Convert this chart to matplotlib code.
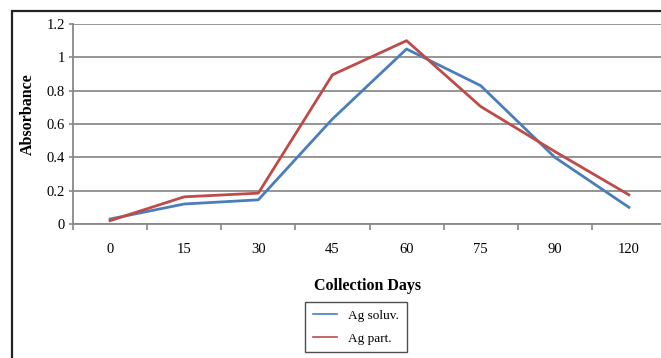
import matplotlib.pyplot as plt
from matplotlib.patches import Rectangle
import numpy as np

days = ["0", "15", "30", "45", "60", "75", "90", "120"]
ag_soluv = [0.03, 0.12, 0.145, 0.63, 1.05, 0.83, 0.40, 0.10]
ag_part = [0.02, 0.163, 0.185, 0.895, 1.10, 0.705, 0.435, 0.175]
yticks = [0, 0.2, 0.4, 0.6, 0.8, 1, 1.2]

plt.rcParams['font.family'] = ['Liberation Serif', 'DejaVu Serif']

W, H = 661, 358
f = plt.figure(figsize=(W / 100, H / 100), dpi=100)

# outer chart frame (cut off on the right and bottom like the source)
f.patches.append(Rectangle((12 / W, -0.1), 1.2, 1.1 - 11 / H, transform=f.transFigure,
                           fill=False, ec="#222222", lw=1.6))

ax = f.add_axes([73 / W, (H - 224) / H, 593 / W, 200 / H])
x = np.arange(len(days))
ax.plot(x, ag_soluv, color="#4a7ebb", lw=2.0, label="Ag soluv.", zorder=3)
ax.plot(x, ag_part, color="#be4b48", lw=2.0, label="Ag part.", zorder=3)

ax.set_xlim(-0.5, len(days) - 0.5)
ax.set_ylim(0, 1.2)
ax.set_yticks(yticks)
ax.set_yticklabels([("%g" % v) for v in yticks])
ax.set_xticks(x)
ax.set_xticklabels(days)
ax.set_xticks(np.arange(-0.5, len(days)), minor=True)
ax.tick_params(axis="x", which="major", length=0, pad=14, labelsize=10.5)
ax.tick_params(axis="x", which="minor", length=4, width=1.2, color="#888888", direction="out")
ax.tick_params(axis="y", length=3, width=1.2, color="#888888", pad=3, labelsize=10.5)

ax.grid(axis="y", color="#8c8c8c", lw=1.3)
ax.set_axisbelow(True)
for s in ["top", "right"]:
    ax.spines[s].set_visible(False)
for s in ["left", "bottom"]:
    ax.spines[s].set_color("#888888")
    ax.spines[s].set_linewidth(1.3)

ax.set_xlabel("Collection Days", fontsize=11.5, fontweight="bold")
ax.xaxis.set_label_coords((368 - 73) / 593, -54 / 200)
ax.set_ylabel("Absorbance", fontsize=11.5, fontweight="bold")
ax.yaxis.set_label_coords(-37 / 593, 0.55)

leg = ax.legend(loc="center", bbox_to_anchor=(356 / W, (H - 327) / H),
                bbox_transform=f.transFigure, fontsize=9.5, frameon=True,
                fancybox=False, edgecolor="#222222", handlelength=1.8,
                labelspacing=0.8, borderpad=0.6)
leg.get_frame().set_linewidth(1.0)
for line in leg.get_lines():
    line.set_linewidth(1.2)

plt.savefig("out.png", dpi=100)
